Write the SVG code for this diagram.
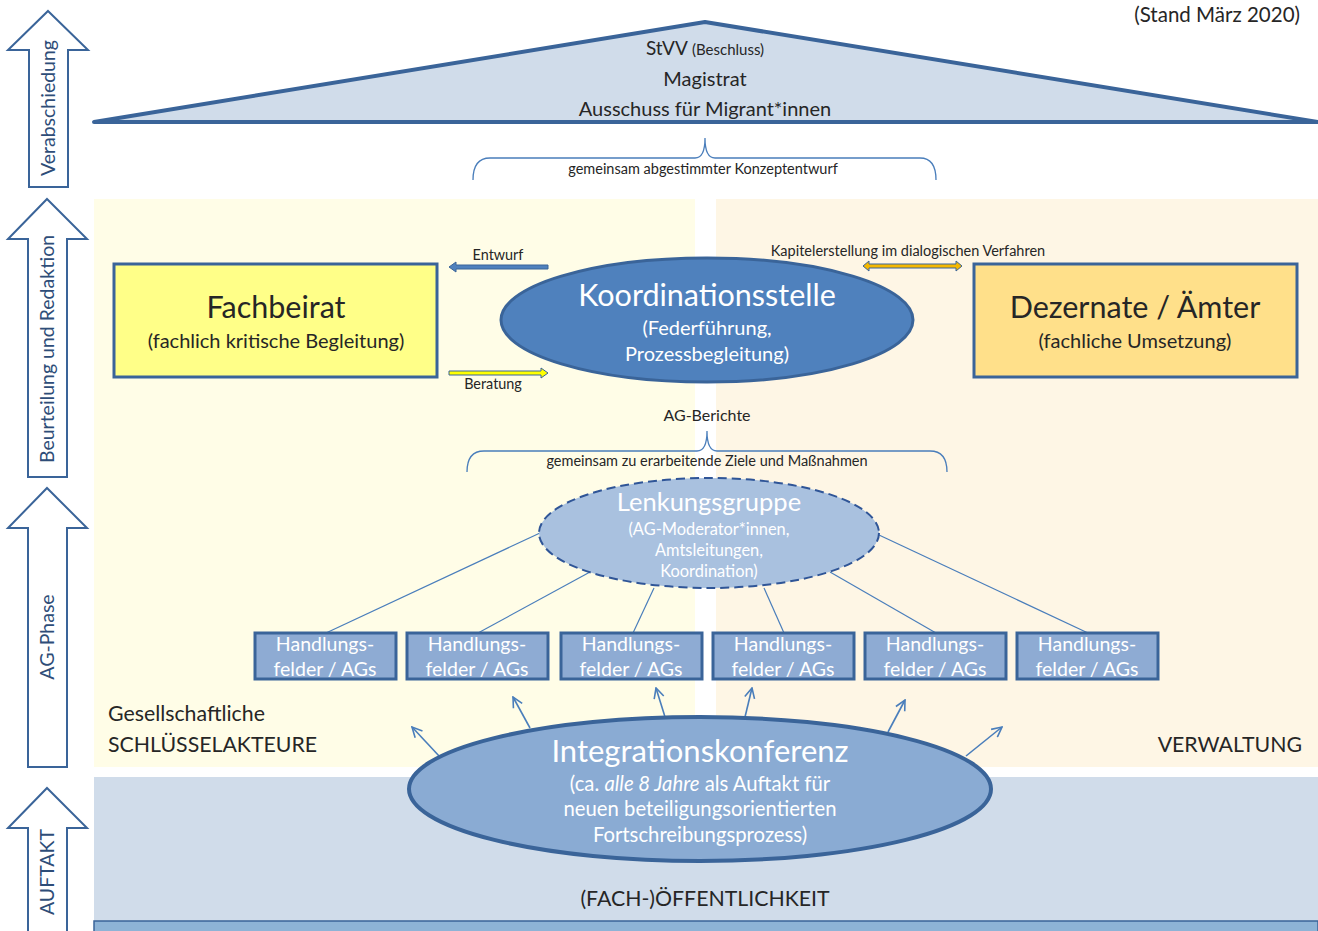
<svg xmlns="http://www.w3.org/2000/svg" width="1318" height="931" viewBox="0 0 1318 931">
<defs>
<style>
text{font-family:Lato,"Open Sans","Liberation Sans",sans-serif;fill:#262626}
.side{fill:#fff;stroke:#3A6499;stroke-width:2}
.sidet{font-size:19.5px;text-anchor:middle;fill:#2E4D78}
.box{stroke:#3A6499;stroke-width:3}
.hf rect{fill:#8EABD3;stroke:#3A6499;stroke-width:3}
.hf text{fill:#fff;font-size:19.5px;text-anchor:middle}
.w{fill:#fff}
.mid{text-anchor:middle}
.brace{fill:none;stroke:#4A7EBB;stroke-width:1.3}
.ln{stroke:#4A7EBB;stroke-width:1.2;fill:none}
.up{stroke:#4A7EBB;stroke-width:1.6;fill:none;marker-end:url(#open)}
</style>
<marker id="open" viewBox="0 0 12 12" refX="11" refY="6" markerWidth="12" markerHeight="12" markerUnits="userSpaceOnUse" orient="auto">
<path d="M1,1 L11,6 L1,11" fill="none" stroke="#4A7EBB" stroke-width="1.6"/>
</marker>
</defs>
<rect width="1318" height="931" fill="#fff"/>
<!-- background panels -->
<rect x="94" y="199" width="601" height="568" fill="#FFFDE7"/>
<rect x="716" y="199" width="602" height="568" fill="#FEF6E5"/>
<rect x="94" y="777" width="1224" height="154" fill="#D0DCEA"/>
<rect x="94" y="921" width="1224" height="12" fill="#8DB3D6" stroke="#3A6499" stroke-width="1.5"/>
<text x="1300" y="22" font-size="20.5" text-anchor="end">(Stand März 2020)</text>

<!-- side arrows -->
<g id="arrow-verabschiedung">
<polygon class="side" points="48,11 88,50 68,50 68,187 29,187 29,50 8,50"/>
<text class="sidet" x="55" y="108" transform="rotate(-90 55 108)">Verabschiedung</text>
</g>
<g id="arrow-beurteilung">
<polygon class="side" points="47,199 87,239 67,239 67,477 28,477 28,239 8,239"/>
<text class="sidet" x="54" y="349" transform="rotate(-90 54 349)">Beurteilung und Redaktion</text>
</g>
<g id="arrow-agphase">
<polygon class="side" points="47,488 87,528 67,528 67,767 28,767 28,528 8,528"/>
<text class="sidet" x="54" y="637" transform="rotate(-90 54 637)">AG-Phase</text>
</g>
<g id="arrow-auftakt">
<polygon class="side" points="47,788 87,828 67,828 67,935 28,935 28,828 8,828"/>
<text class="sidet" x="54" y="872" transform="rotate(-90 54 872)">AUFTAKT</text>
</g>

<!-- roof -->
<g id="roof">
<polygon points="94,122 705,22 1318,122" fill="#D0DCEA" stroke="#3A6499" stroke-width="4" stroke-linejoin="round"/>
<text x="705" y="55" class="mid" font-size="19">StVV <tspan font-size="15">(Beschluss)</tspan></text>
<text x="705" y="86" class="mid" font-size="20">Magistrat</text>
<text x="705" y="116" class="mid" font-size="20">Ausschuss für Migrant*innen</text>
</g>

<!-- connectors -->
<g id="connectors">
<path class="brace" d="M473,180 Q473,158 490,158 L695,158 Q705,158 705,138 Q705,158 715,158 L920,158 Q936,158 936,180"/>
<path class="brace" d="M467,472 Q467,451 484,451 L697,451 Q707,451 707,431 Q707,451 717,451 L930,451 Q947,451 947,472"/>
<polygon points="548,265 456,265 456,262 449,267 456,272 456,269 548,269" fill="#4F81BD" stroke="#3A6499" stroke-width="1"/>
<polygon points="449,371 541,371 541,368 548,373 541,378 541,375 449,375" fill="#FFFF00" stroke="#3A6499" stroke-width="1"/>
<polygon points="863,266 869,261 869,264 956,264 956,261 962,266 956,271 956,268 869,268 869,271" fill="#F5B800" stroke="#3A6499" stroke-width="1"/>
<line class="ln" x1="326" y1="633" x2="540" y2="533"/>
<line class="ln" x1="478" y1="633" x2="590" y2="572"/>
<line class="ln" x1="633" y1="633" x2="654" y2="588"/>
<line class="ln" x1="784" y1="633" x2="764" y2="588"/>
<line class="ln" x1="936" y1="633" x2="830" y2="572"/>
<line class="ln" x1="1088" y1="633" x2="879" y2="535"/>
<line class="up" x1="440" y1="757" x2="412" y2="727"/>
<line class="up" x1="530" y1="728" x2="513" y2="697"/>
<line class="up" x1="665" y1="717" x2="656" y2="688"/>
<line class="up" x1="745" y1="717" x2="752" y2="688"/>
<line class="up" x1="888" y1="732" x2="905" y2="700"/>
<line class="up" x1="966" y1="756" x2="1002" y2="727"/>
</g>
<text x="703" y="174" class="mid" font-size="14.5">gemeinsam abgestimmter Konzeptentwurf</text>
<text x="498" y="260" class="mid" font-size="14.4">Entwurf</text>
<text x="493" y="389" class="mid" font-size="14.4">Beratung</text>
<text x="908" y="256" class="mid" font-size="14.5">Kapitelerstellung im dialogischen Verfahren</text>
<text x="707" y="421" class="mid" font-size="16">AG-Berichte</text>
<text x="707" y="466" class="mid" font-size="14.5">gemeinsam zu erarbeitende Ziele und Maßnahmen</text>

<g id="fachbeirat">
<rect class="box" x="114" y="264" width="323" height="113" fill="#FFFF88"/>
<text x="276" y="318" class="mid" font-size="30.5">Fachbeirat</text>
<text x="276" y="348" class="mid" font-size="20">(fachlich kritische Begleitung)</text>
</g>
<g id="dezernate">
<rect class="box" x="974" y="264" width="323" height="113" fill="#FFE08A"/>
<text x="1135" y="318" class="mid" font-size="30.5">Dezernate / Ämter</text>
<text x="1135" y="348" class="mid" font-size="20">(fachliche Umsetzung)</text>
</g>
<g id="koordinationsstelle">
<ellipse cx="707" cy="320" rx="206" ry="62" fill="#4F81BD" stroke="#3A6499" stroke-width="3"/>
<text x="707" y="306" class="mid w" font-size="30.5">Koordinationsstelle</text>
<text x="707" y="335" class="mid w" font-size="20">(Federführung,</text>
<text x="707" y="361" class="mid w" font-size="20">Prozessbegleitung)</text>
</g>
<g id="lenkungsgruppe">
<ellipse cx="709" cy="533" rx="170" ry="55" fill="#A9C1DF" stroke="#2F5597" stroke-width="2" stroke-dasharray="9,5"/>
<text x="709" y="511" class="mid w" font-size="25.5">Lenkungsgruppe</text>
<text x="709" y="535" class="mid w" font-size="16.4">(AG-Moderator*innen,</text>
<text x="709" y="556" class="mid w" font-size="16.4">Amtsleitungen,</text>
<text x="709" y="577" class="mid w" font-size="16.4">Koordination)</text>
</g>
<g id="hf1" class="hf"><rect x="255" y="633" width="141" height="46"/><text x="325" y="651">Handlungs-</text><text x="325" y="676">felder / AGs</text></g>
<g id="hf2" class="hf"><rect x="407" y="633" width="141" height="46"/><text x="477" y="651">Handlungs-</text><text x="477" y="676">felder / AGs</text></g>
<g id="hf3" class="hf"><rect x="561" y="633" width="141" height="46"/><text x="631" y="651">Handlungs-</text><text x="631" y="676">felder / AGs</text></g>
<g id="hf4" class="hf"><rect x="713" y="633" width="141" height="46"/><text x="783" y="651">Handlungs-</text><text x="783" y="676">felder / AGs</text></g>
<g id="hf5" class="hf"><rect x="865" y="633" width="141" height="46"/><text x="935" y="651">Handlungs-</text><text x="935" y="676">felder / AGs</text></g>
<g id="hf6" class="hf"><rect x="1017" y="633" width="141" height="46"/><text x="1087" y="651">Handlungs-</text><text x="1087" y="676">felder / AGs</text></g>

<g id="integrationskonferenz">
<ellipse cx="700" cy="789" rx="291" ry="72" fill="#8AABD3" stroke="#3A6499" stroke-width="4"/>
<text x="700" y="762" class="mid w" font-size="31">Integrationskonferenz</text>
<text x="700" y="791" class="mid w" font-size="20.3">(ca. <tspan font-style="italic">alle 8 Jahre</tspan> als Auftakt für</text>
<text x="700" y="816" class="mid w" font-size="20.3">neuen beteiligungsorientierten</text>
<text x="700" y="842" class="mid w" font-size="20.3">Fortschreibungsprozess)</text>
</g>
<text x="108" y="721" font-size="21.3">Gesellschaftliche</text>
<text x="108" y="752" font-size="21.3">SCHLÜSSELAKTEURE</text>
<text x="1302" y="752" font-size="21.3" text-anchor="end">VERWALTUNG</text>
<text x="705" y="906" class="mid" font-size="21.3">(FACH-)ÖFFENTLICHKEIT</text>
</svg>
